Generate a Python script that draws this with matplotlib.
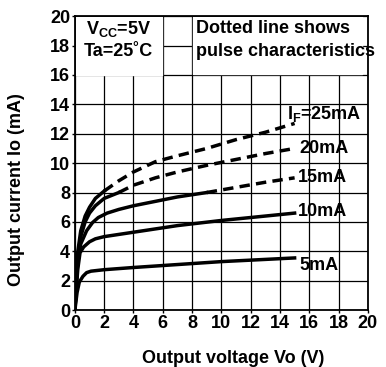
import matplotlib.pyplot as plt

plt.rcParams['font.family'] = 'Liberation Sans'
plt.rcParams['font.weight'] = 'bold'
plt.rcParams['axes.labelweight'] = 'bold'
plt.rcParams['mathtext.fontset'] = 'custom'
plt.rcParams['mathtext.rm'] = 'Liberation Sans:bold'

# Curvas (Vo en V, Io en mA)
x5 = [0, 0.15, 0.3, 0.55, 0.8, 1.1, 2, 4, 7, 10, 13, 15]
y5 = [0, 1.2, 1.9, 2.3, 2.55, 2.65, 2.75, 2.9, 3.1, 3.3, 3.45, 3.55]

x10 = [0, 0.1, 0.2, 0.35, 0.6, 1.0, 1.4, 2, 3, 5, 7, 10, 13, 15]
y10 = [0, 1.5, 2.8, 3.9, 4.3, 4.65, 4.85, 5.0, 5.15, 5.45, 5.75, 6.1, 6.4, 6.6]

x15 = [0, 0.1, 0.2, 0.4, 0.8, 1.2, 1.6, 2.2, 3, 4, 5.5, 7, 9]
y15 = [0, 1.8, 3.3, 4.5, 5.4, 5.95, 6.3, 6.6, 6.85, 7.1, 7.4, 7.7, 8.0]
x15p = [9, 11, 13, 15]
y15p = [8.0, 8.35, 8.7, 9.0]

x20 = [0, 0.1, 0.2, 0.4, 0.7, 1.0, 1.4, 2, 3]
y20 = [0, 2.0, 3.6, 5.0, 6.0, 6.6, 7.1, 7.6, 8.0]
x20p = [3, 4, 5.5, 7, 9, 11, 13, 15]
y20p = [8.0, 8.5, 9.0, 9.4, 9.85, 10.25, 10.65, 11.0]

x25 = [0, 0.1, 0.2, 0.4, 0.7, 1.0, 1.4, 2]
y25 = [0, 2.2, 4.0, 5.4, 6.4, 7.0, 7.6, 8.1]
x25p = [2, 3, 4, 5.5, 7, 9, 11, 13, 15]
y25p = [8.1, 8.8, 9.4, 10.1, 10.5, 11.0, 11.6, 12.1, 12.7]

ticks = list(range(0, 21, 2))

fig = plt.figure(figsize=(3.86, 3.67), dpi=100)
ax = fig.add_axes([0.194, 0.155, 0.759, 0.801])

ax.set_xlim(0, 20)
ax.set_ylim(0, 20)
ax.set_xticks(ticks)
ax.set_yticks(ticks)
ax.grid(True, color='black', linewidth=0.9)
ax.set_axisbelow(True)
for s in ax.spines.values():
    s.set_linewidth(1.3)
ax.tick_params(labelsize=13, length=2, width=1, pad=1.5)

lw = 2.5
dash = (0, (3, 1.8))
ax.plot(x5, y5, color='black', lw=lw)
ax.plot(x10, y10, color='black', lw=lw)
ax.plot(x15, y15, color='black', lw=lw)
ax.plot(x15p, y15p, color='black', lw=lw, linestyle=dash)
ax.plot(x20, y20, color='black', lw=lw)
ax.plot(x20p, y20p, color='black', lw=lw, linestyle=dash)
ax.plot(x25, y25, color='black', lw=lw)
ax.plot(x25p, y25p, color='black', lw=lw, linestyle=dash)

# Etiquetas de las curvas
fs = 13
ax.text(14.5, 13.35, r'$\mathregular{I_F}$=25mA', fontsize=fs, va='center', ha='left', clip_on=False)
ax.text(15.35, 11.0, '20mA', fontsize=fs, va='center', ha='left')
ax.text(15.25, 9.05, '15mA', fontsize=fs, va='center', ha='left')
ax.text(15.25, 6.7, '10mA', fontsize=fs, va='center', ha='left')
ax.text(15.35, 3.05, '5mA', fontsize=fs, va='center', ha='left')

# Recuadros blancos de la parte superior
ax.fill_between([0.05, 5.93], 16, 19.95, color='white', zorder=1.5)
ax.fill_between([8.07, 19.6], 16.07, 19.95, color='white', zorder=1.5)
ax.text(3.0, 19.15, r'$\mathregular{V_{CC}}$=5V', fontsize=fs, ha='center', va='center')
ax.text(3.0, 17.6, 'Ta=25˚C', fontsize=fs, ha='center', va='center')
ax.text(8.3, 19.15, 'Dotted line shows', fontsize=fs, ha='left', va='center', clip_on=False)
ax.text(8.3, 17.6, 'pulse characteristics', fontsize=fs, ha='left', va='center', clip_on=False)

ax.set_xlabel('Output voltage Vo (V)', fontsize=fs)
ax.set_ylabel('Output current Io (mA)', fontsize=fs)
ax.xaxis.set_label_coords(0.54, -0.135)
ax.yaxis.set_label_coords(-0.17, 0.41)

fig.savefig('out.png', dpi=100)
